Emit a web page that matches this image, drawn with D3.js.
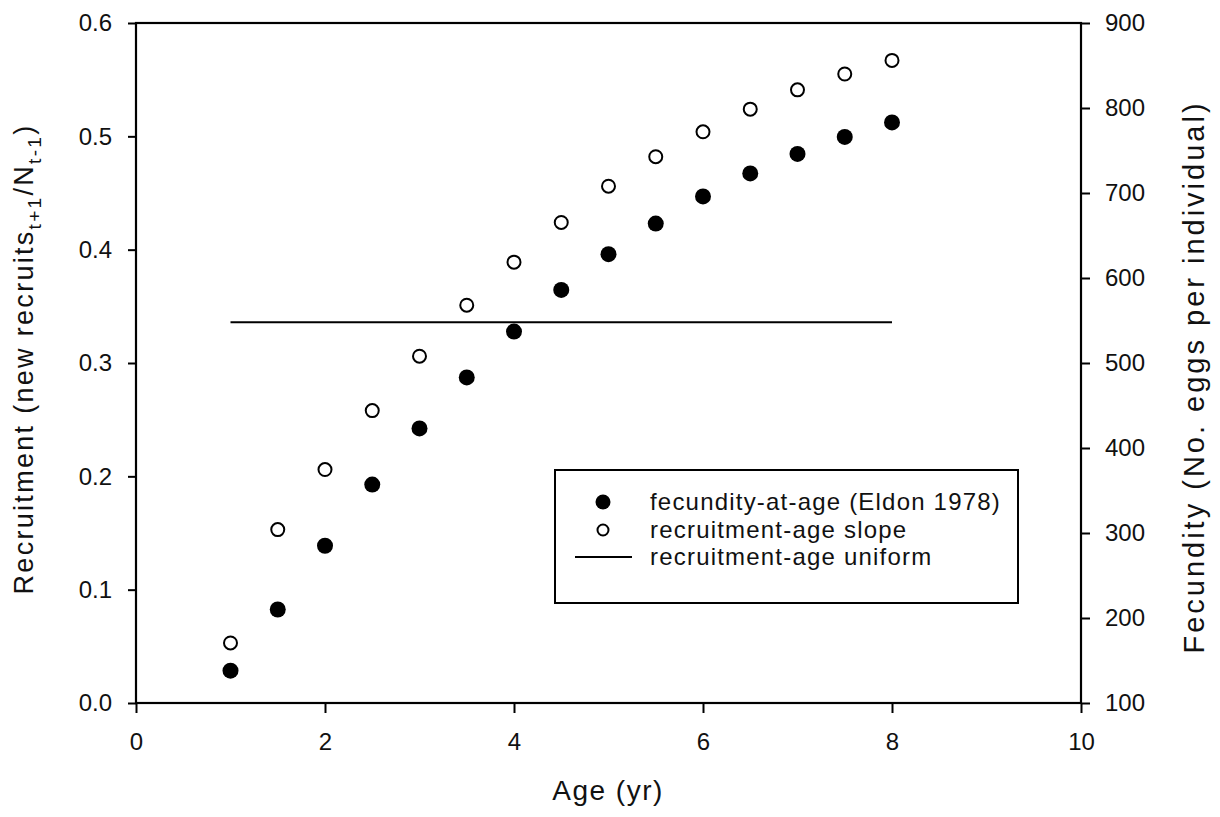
<!DOCTYPE html>
<html>
<head>
<meta charset="utf-8">
<script src="https://cdn.jsdelivr.net/npm/d3@7"></script>
<style>
  body { margin: 0; background: #fff; }
  svg text { font-family: "Liberation Sans", Arial, sans-serif; fill: #111; }
</style>
</head>
<body>
<svg id="chart" width="1220" height="817"></svg>
<script>
// data
var ages = [1, 1.5, 2, 2.5, 3, 3.5, 4, 4.5, 5, 5.5, 6, 6.5, 7, 7.5, 8];
var fecundity = [138, 210, 285, 357, 423, 483, 537, 586, 628, 664, 696, 723, 746, 766, 783];
var recruitSlope = [0.053, 0.153, 0.206, 0.258, 0.306, 0.351, 0.389, 0.424, 0.456, 0.482, 0.504, 0.524, 0.541, 0.555, 0.567];
var uniformAges = [1, 8];
var uniformValue = [0.336, 0.336];

var xTicks = [0, 2, 4, 6, 8, 10];
var yLeftTicks = [0, 0.1, 0.2, 0.3, 0.4, 0.5, 0.6];
var yRightTicks = [100, 200, 300, 400, 500, 600, 700, 800, 900];

var legendLabels = ["fecundity-at-age (Eldon 1978)", "recruitment-age slope", "recruitment-age uniform"];

var svg = d3.select("#chart");

// plot box (note: "top" is reserved on window, so use m* names)
var mLeft = 136, mRight = 1081, mTop = 23, mBottom = 703;

var xScale = d3.scaleLinear().domain([0, 10]).range([mLeft, mRight]);
var yLeft = d3.scaleLinear().domain([0, 0.6]).range([mBottom, mTop]);
var yRight = d3.scaleLinear().domain([100, 900]).range([mBottom, mTop]);

// axes
var xAxis = d3.axisBottom(xScale).tickValues(xTicks).tickSize(10).tickPadding(20).tickFormat(d3.format("d"));
var yAxisL = d3.axisLeft(yLeft).tickValues(yLeftTicks).tickSize(8).tickPadding(16).tickFormat(d3.format(".1f"));
var yAxisR = d3.axisRight(yRight).tickValues(yRightTicks).tickSize(9).tickPadding(15).tickFormat(d3.format("d"));

function styleAxis(g) {
    g.select(".domain").remove();
    g.selectAll(".tick line").attr("stroke", "#000").attr("stroke-width", 2);
    g.selectAll(".tick text").style("font-size", "24px").attr("fill", "#111");
}

svg.append("g").attr("transform", "translate(0," + mBottom + ")").call(xAxis).call(styleAxis);
svg.append("g").attr("transform", "translate(" + mLeft + ",0)").call(yAxisL).call(styleAxis);
svg.append("g").attr("transform", "translate(" + mRight + ",0)").call(yAxisR).call(styleAxis);

// frame
svg.append("rect")
    .attr("x", mLeft).attr("y", mTop)
    .attr("width", mRight - mLeft).attr("height", mBottom - mTop)
    .attr("fill", "none").attr("stroke", "#000").attr("stroke-width", 2.2);

// uniform line
var line = d3.line().x(function(d){ return xScale(d[0]); }).y(function(d){ return yLeft(d[1]); });
svg.append("path")
    .datum(d3.zip(uniformAges, uniformValue))
    .attr("d", line)
    .attr("fill", "none").attr("stroke", "#000").attr("stroke-width", 2);

// open circles (left axis)
svg.selectAll(".open").data(d3.zip(ages, recruitSlope)).enter()
    .append("circle").attr("class", "open")
    .attr("cx", function(d){ return xScale(d[0]); })
    .attr("cy", function(d){ return yLeft(d[1]); })
    .attr("r", 6.5)
    .attr("fill", "#fff").attr("stroke", "#000").attr("stroke-width", 2);

// filled circles (right axis)
svg.selectAll(".filled").data(d3.zip(ages, fecundity)).enter()
    .append("circle").attr("class", "filled")
    .attr("cx", function(d){ return xScale(d[0]); })
    .attr("cy", function(d){ return yRight(d[1]); })
    .attr("r", 8)
    .attr("fill", "#000");

// axis titles
svg.append("text")
    .attr("x", 608).attr("y", 800)
    .attr("text-anchor", "middle")
    .style("font-size", "28px")
    .style("letter-spacing", "1.5px")
    .text("Age (yr)");

var lt = svg.append("text")
    .attr("transform", "translate(33,359) rotate(-90)")
    .attr("text-anchor", "middle")
    .style("font-size", "27px")
    .style("letter-spacing", "2.3px");
lt.append("tspan").text("Recruitment (new recruits");
lt.append("tspan").attr("dy", 8).style("font-size", "19px").text("t+1");
lt.append("tspan").attr("dy", -8).text("/N");
lt.append("tspan").attr("dy", 8).style("font-size", "19px").text("t-1");
lt.append("tspan").attr("dy", -8).text(")");

svg.append("text")
    .attr("transform", "translate(1204,377) rotate(-90)")
    .attr("text-anchor", "middle")
    .style("font-size", "29px")
    .style("letter-spacing", "3px")
    .text("Fecundity (No. eggs per individual)");

// legend
var legend = svg.append("g");
legend.append("rect")
    .attr("x", 555).attr("y", 470).attr("width", 463).attr("height", 133)
    .attr("fill", "#fff").attr("stroke", "#000").attr("stroke-width", 2);

var rowY = [502, 530, 557];
legend.append("circle").attr("cx", 603).attr("cy", rowY[0]).attr("r", 7.5).attr("fill", "#000");
legend.append("circle").attr("cx", 603).attr("cy", rowY[1]).attr("r", 5.5)
    .attr("fill", "#fff").attr("stroke", "#000").attr("stroke-width", 2);
legend.append("line").attr("x1", 575).attr("x2", 632).attr("y1", rowY[2]).attr("y2", rowY[2])
    .attr("stroke", "#000").attr("stroke-width", 2);

legend.selectAll(".lab").data(legendLabels).enter()
    .append("text").attr("class", "lab")
    .attr("x", 650)
    .attr("y", function(d, i){ return rowY[i]; })
    .attr("dy", "0.35em")
    .style("font-size", "24px")
    .style("letter-spacing", "1.2px")
    .text(function(d){ return d; });
</script>
</body>
</html>
